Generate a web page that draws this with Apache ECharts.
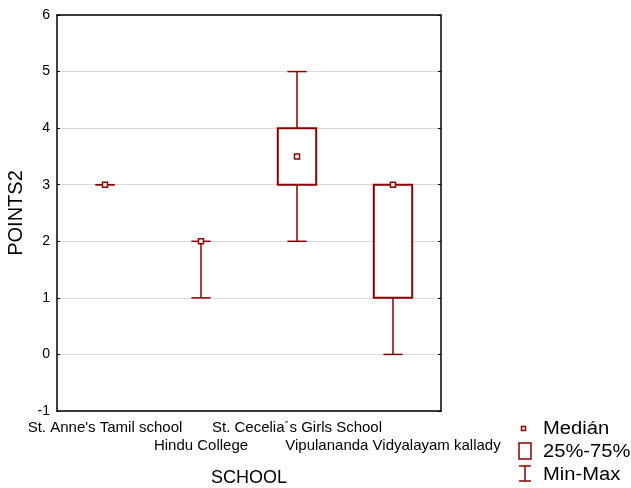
<!DOCTYPE html>
<html>
<head>
<meta charset="utf-8">
<script src="https://cdn.jsdelivr.net/npm/echarts@6/dist/echarts.min.js"></script>
<style>
  html, body { margin: 0; padding: 0; background: #fff; }
  #chart { width: 631px; height: 488px; }
</style>
</head>
<body>
<div id="chart"></div>
<script>
const schools = ["St. Anne's Tamil school", 'Hindu College', 'St. Cecelia´s Girls School', 'Vipulananda Vidyalayam kallady']
const mins    = [3, 1, 2, 0]
const q1s     = [3, 2, 3, 1]
const medians = [3, 2, 3.5, 3]
const q3s     = [3, 2, 4, 3]
const maxs    = [3, 2, 5, 3]

const RED = '#8b0000'
const FONT = '"Liberation Sans", Arial, sans-serif'

const rows = schools.map((s, i) => [i, mins[i], q1s[i], medians[i], q3s[i], maxs[i]])

const chart = echarts.init(document.getElementById('chart'), null, { renderer: 'canvas' })

const whiskers = (params, api) => {
  const i = api.value(0)
  const lo = api.coord([i, api.value(1)])
  const b1 = api.coord([i, api.value(2)])
  const b3 = api.coord([i, api.value(4)])
  const hi = api.coord([i, api.value(5)])
  const cap = api.size([1, 0])[0] * 0.2
  const st = { stroke: RED, lineWidth: 1.5 }
  return {
    type: 'group',
    children: [
      { type: 'line', shape: { x1: lo[0], y1: lo[1], x2: b1[0], y2: b1[1] }, style: st },
      { type: 'line', shape: { x1: b3[0], y1: b3[1], x2: hi[0], y2: hi[1] }, style: st },
      { type: 'line', shape: { x1: lo[0] - cap / 2, y1: lo[1], x2: lo[0] + cap / 2, y2: lo[1] }, style: st },
      { type: 'line', shape: { x1: hi[0] - cap / 2, y1: hi[1], x2: hi[0] + cap / 2, y2: hi[1] }, style: st },
    ],
  }
}

const boxes = (params, api) => {
  const i = api.value(0)
  if (api.value(4) === api.value(2)) return null
  const b1 = api.coord([i, api.value(2)])
  const b3 = api.coord([i, api.value(4)])
  const w = api.size([1, 0])[0] * 0.4
  return {
    type: 'rect',
    shape: { x: b1[0] - w / 2, y: b3[1], width: w, height: b1[1] - b3[1] },
    style: { fill: '#fff', stroke: RED, lineWidth: 2 },
  }
}

// legend drawn by hand, text is a bit stretched like the original
const legendText = (text, y) => ({
  type: 'text', x: 543, y, scaleX: 1.12,
  style: { text, font: '18px ' + FONT, fill: '#000', verticalAlign: 'middle' },
})

const option = {
  animation: false,
  textStyle: { fontFamily: FONT },
  grid: { left: 57, right: 190, top: 15, bottom: 77, outerBoundsMode: 'none', containLabel: false },
  xAxis: [{
    type: 'category',
    data: schools,
    name: 'SCHOOL',
    nameLocation: 'middle',
    nameGap: 58,
    nameTextStyle: { fontSize: 18, color: '#000', fontFamily: FONT },
    axisLine: { onZero: false, lineStyle: { color: '#000', width: 1.5 } },
    axisTick: { inside: true, alignWithLabel: true, length: 3, lineStyle: { color: '#000' } },
    axisLabel: {
      interval: 0, margin: 8, fontSize: 15, lineHeight: 18, color: '#000', fontFamily: FONT,
      formatter: (v, i) => (i % 2 ? '\n' + v : v),
    },
    splitLine: { show: false },
  }, {
    type: 'category',
    data: schools,
    position: 'top',
    axisLine: { onZero: false, lineStyle: { color: '#000', width: 1.5 } },
    axisTick: { inside: true, alignWithLabel: true, length: 3, lineStyle: { color: '#000' } },
    axisLabel: { show: false },
  }],
  yAxis: [{
    type: 'value',
    min: -1, max: 6, interval: 1,
    name: 'POINTS2',
    nameLocation: 'middle',
    nameGap: 27,
    nameTextStyle: { fontSize: 20, color: '#000', fontFamily: FONT },
    axisLine: { show: true, onZero: false, lineStyle: { color: '#000', width: 1.5 } },
    axisTick: { show: true, inside: true, length: 3, lineStyle: { color: '#000' } },
    axisLabel: { margin: 7, fontSize: 14, color: '#000', fontFamily: FONT },
    splitLine: { lineStyle: { color: '#d9d9d9', width: 1 } },
  }, {
    type: 'value',
    min: -1, max: 6, interval: 1,
    position: 'right',
    axisLine: { show: true, onZero: false, lineStyle: { color: '#000', width: 1.5 } },
    axisTick: { show: true, inside: true, length: 3, lineStyle: { color: '#000' } },
    axisLabel: { show: false },
    splitLine: { show: false },
  }],
  series: [
    { name: 'Min-Max', type: 'custom', renderItem: whiskers, data: rows, z: 2 },
    { name: '25%-75%', type: 'custom', renderItem: boxes, data: rows, z: 3 },
    {
      name: 'Medián', type: 'scatter', data: medians.map((m, i) => [i, m]), z: 4,
      symbol: 'rect', symbolSize: 5,
      itemStyle: { color: '#fff', borderColor: RED, borderWidth: 1.5, opacity: 1 },
    },
  ],
  graphic: [
    { type: 'rect', x: 521.5, y: 426.5, shape: { width: 4, height: 4 }, style: { fill: '#fff', stroke: RED, lineWidth: 1.5 } },
    { type: 'rect', x: 519, y: 443, shape: { width: 12, height: 16 }, style: { fill: '#fff', stroke: RED, lineWidth: 1.5 } },
    { type: 'line', shape: { x1: 525, y1: 466, x2: 525, y2: 481 }, style: { stroke: RED, lineWidth: 1.5 } },
    { type: 'line', shape: { x1: 519, y1: 466, x2: 531, y2: 466 }, style: { stroke: RED, lineWidth: 1.5 } },
    { type: 'line', shape: { x1: 519, y1: 481, x2: 531, y2: 481 }, style: { stroke: RED, lineWidth: 1.5 } },
    legendText('Medián', 429),
    legendText('25%-75%', 452),
    legendText('Min-Max', 475),
  ],
}

chart.setOption(option)
window.addEventListener('resize', () => chart.resize())
</script>
</body>
</html>
